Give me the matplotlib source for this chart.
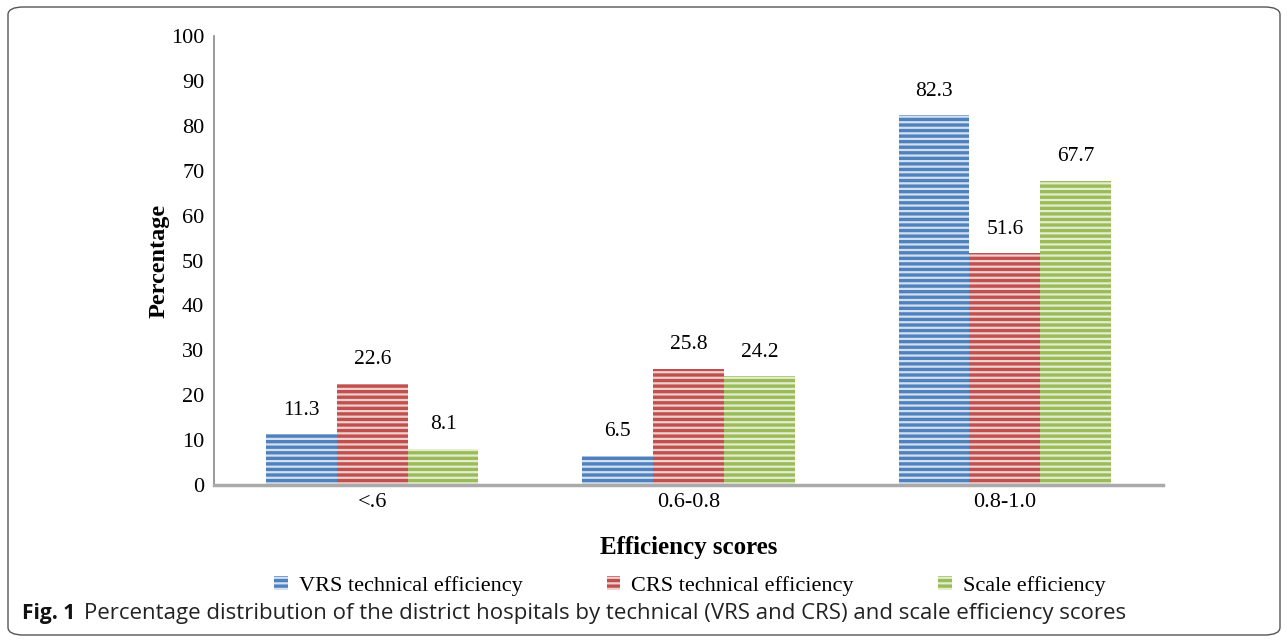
import numpy as np
import matplotlib
matplotlib.use("Agg")
import matplotlib.pyplot as plt
from matplotlib.patches import FancyBboxPatch

categories = ["<.6", "0.6-0.8", "0.8-1.0"]
series_names = ["VRS technical efficiency", "CRS technical efficiency", "Scale efficiency"]
vrs = [11.3, 6.5, 82.3]
crs = [22.6, 25.8, 51.6]
scale = [8.1, 24.2, 67.7]

edge_colors = ["#4F81BD", "#C0504D", "#9BBB59"]
face_colors = ["#D3E0F1", "#F0D0CF", "#E3EECF"]

plt.rcParams["hatch.linewidth"] = 2.4
plt.rcParams["font.family"] = ["Liberation Serif", "DejaVu Serif"]

fig = plt.figure(figsize=(12.87, 6.41), dpi=100)
ax = fig.add_axes([0.1663, 0.2434, 0.7374, 0.7004])

x = np.arange(len(categories))
w = 0.224
for i, (vals, name) in enumerate(zip([vrs, crs, scale], series_names)):
    pos = x + (i - 1) * w
    ax.bar(pos, vals, width=w, facecolor=face_colors[i], edgecolor=edge_colors[i],
           hatch="---", linewidth=0, label=name)
    for p, v in zip(pos, vals):
        ax.text(p, v + 5.4, f"{v}", ha="center", va="center", fontsize=15.5)

ax.set_xlim(-0.5, 2.5)
ax.set_ylim(0, 100)
ax.set_yticks(range(0, 101, 10))
ax.set_xticks(x)
ax.set_xticklabels(categories)
ax.tick_params(axis="both", length=0, labelsize=16)
ax.tick_params(axis="y", pad=7)
ax.tick_params(axis="x", pad=6)
for s in ["top", "right"]:
    ax.spines[s].set_visible(False)
ax.spines["left"].set_color("#888888")
ax.spines["left"].set_linewidth(1.2)
ax.spines["bottom"].set_color("#AAAAAA")
ax.spines["bottom"].set_linewidth(2.5)

ax.set_ylabel("Percentage", fontsize=17.5, fontweight="bold", labelpad=1)
ax.set_xlabel("Efficiency scores", fontsize=18, fontweight="bold", labelpad=17)

leg = fig.legend(loc="center", bbox_to_anchor=(0.536, 0.086), ncol=3, frameon=False,
                 fontsize=16, handlelength=0.6, handleheight=0.6, columnspacing=3.8,
                 handletextpad=0.5)

# caption
cap_font = ["Open Sans", "DejaVu Sans"]
fig.text(22 / 1287, 1 - 614 / 641, "Fig. 1", fontsize=15, fontweight="bold",
         family=cap_font, va="center", ha="left", color="#111111")
fig.text(84 / 1287, 1 - 614 / 641,
         "Percentage distribution of the district hospitals by technical (VRS and CRS) and scale efficiency scores",
         fontsize=16, family=cap_font, va="center", ha="left", color="#222222")

# rounded frame
frame = FancyBboxPatch((8 / 1287, 6 / 641), 1272 / 1287, 628 / 641,
                       boxstyle="round,pad=0,rounding_size=0.012",
                       transform=fig.transFigure, facecolor="none",
                       edgecolor="#555555", linewidth=1.0)
fig.patches.append(frame)

fig.savefig("out.png", dpi=100)
